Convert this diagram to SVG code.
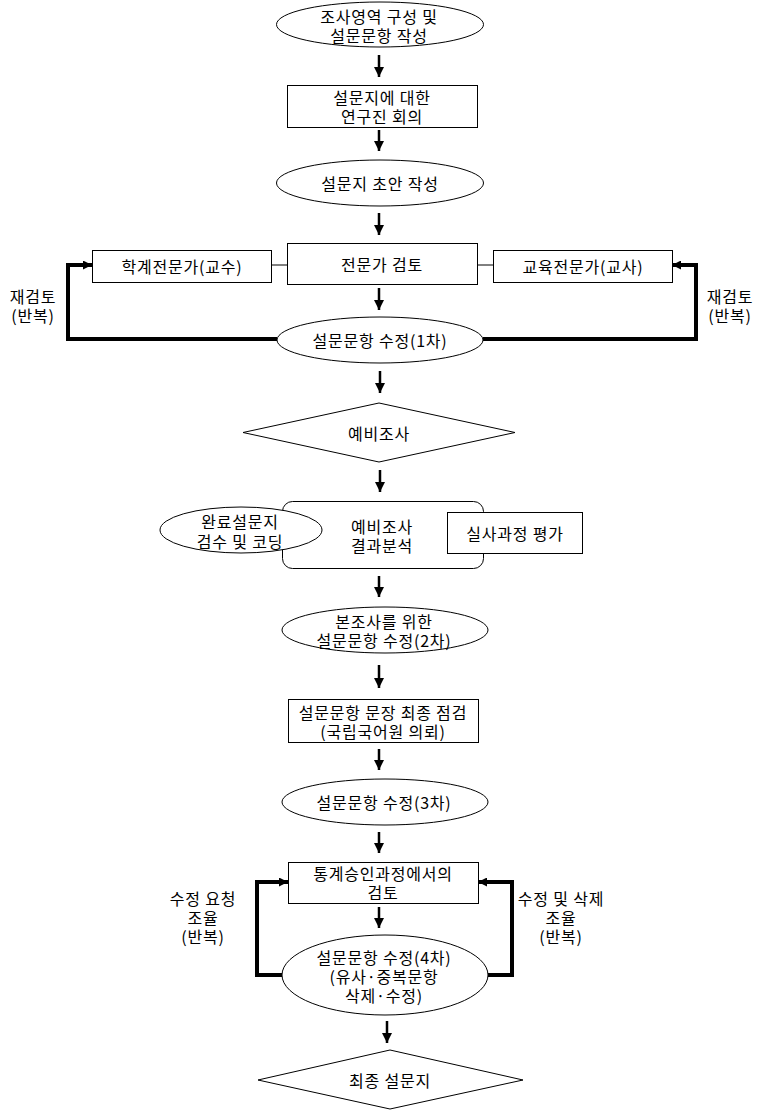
<svg xmlns="http://www.w3.org/2000/svg" width="766" height="1111" viewBox="0 0 766 1111">
<defs>
<style>
.s{fill:#fff;stroke:#000;stroke-width:1}
.t{font-family:"Noto Sans CJK KR","Liberation Sans",sans-serif;font-size:16px;letter-spacing:0.8px;fill:#000;text-anchor:middle;dominant-baseline:central}
.a{stroke:#000;stroke-width:2.5;fill:none}
.l{stroke:#000;stroke-width:4;fill:none}
.c{stroke:#000;stroke-width:1;fill:none}
</style>
<marker id="ah" markerUnits="userSpaceOnUse" viewBox="0 0 10 10" refX="10" refY="5" markerWidth="10" markerHeight="10" orient="auto">
<path d="M0,0 L10,5 L0,10 Z" fill="#000"/>
</marker>
<marker id="lh" markerUnits="userSpaceOnUse" viewBox="0 0 10 10" refX="10" refY="5" markerWidth="9" markerHeight="9" orient="auto">
<path d="M0,0 L10,5 L0,10 Z" fill="#000"/>
</marker>
</defs>
<rect width="766" height="1111" fill="#fff"/>

<g id="connectors">
<path class="a" d="M379,55 V77" marker-end="url(#ah)"/>
<path class="a" d="M379,130 V151" marker-end="url(#ah)"/>
<path class="a" d="M379,213 V235" marker-end="url(#ah)"/>
<path class="c" d="M272,265 H287 M477,265 H493"/>
<path class="a" d="M379,288 V310" marker-end="url(#ah)"/>
<path class="l" d="M277,339 H68 V265 H92" marker-end="url(#lh)"/>
<path class="l" d="M483,339 H696 V265 H672" marker-end="url(#lh)"/>
<path class="a" d="M380,371 V393" marker-end="url(#ah)"/>
<path class="a" d="M380,470 V492" marker-end="url(#ah)"/>
<path class="a" d="M379,576 V597" marker-end="url(#ah)"/>
<path class="a" d="M379,665 V688" marker-end="url(#ah)"/>
<path class="a" d="M379,749 V770" marker-end="url(#ah)"/>
<path class="a" d="M379,832 V853" marker-end="url(#ah)"/>
<path class="a" d="M379,907 V928" marker-end="url(#ah)"/>
<path class="l" d="M282,975 H257 V882 H288" marker-end="url(#lh)"/>
<path class="l" d="M488,975 H512 V882 H478" marker-end="url(#lh)"/>
<path class="a" d="M387,1021 V1043" marker-end="url(#ah)"/>
</g>

<g id="n1">
<ellipse class="s" cx="380" cy="24.5" rx="103.5" ry="22.5"/>
<text class="t" x="379" y="16">조사영역 구성 및</text>
<text class="t" x="379" y="35">설문문항 작성</text>
</g>
<g id="n2">
<rect class="s" x="287.5" y="85.5" width="190" height="42"/>
<text class="t" x="382" y="97">설문지에 대한</text>
<text class="t" x="382" y="116">연구진 회의</text>
</g>
<g id="n3">
<ellipse class="s" cx="380" cy="183" rx="103.5" ry="23"/>
<text class="t" x="380" y="183">설문지 초안 작성</text>
</g>
<g id="n4">
<rect class="s" x="287.5" y="243.5" width="190" height="41"/>
<text class="t" x="382" y="264">전문가 검토</text>
</g>
<g id="n5">
<rect class="s" x="92.5" y="250.5" width="179" height="32"/>
<text class="t" x="182" y="266">학계전문가(교수)</text>
</g>
<g id="n6">
<rect class="s" x="493.5" y="250.5" width="179" height="32"/>
<text class="t" x="583" y="266">교육전문가(교사)</text>
</g>
<g id="lab1">
<text class="t" x="33" y="296">재검토</text>
<text class="t" x="33" y="315">(반복)</text>
</g>
<g id="lab2">
<text class="t" x="730" y="296">재검토</text>
<text class="t" x="730" y="315">(반복)</text>
</g>
<g id="n7">
<ellipse class="s" cx="380" cy="340" rx="103" ry="23"/>
<text class="t" x="380" y="340">설문문항 수정(1차)</text>
</g>
<g id="n8">
<polygon class="s" points="379,403 515,432.5 379,462 243,432.5"/>
<text class="t" x="379" y="433">예비조사</text>
</g>
<g id="n9">
<rect class="s" x="282.5" y="501.5" width="201" height="67" rx="10" ry="10"/>
<text class="t" x="382" y="526">예비조사</text>
<text class="t" x="382" y="545">결과분석</text>
</g>
<g id="n10">
<ellipse class="s" cx="241" cy="530" rx="81" ry="23"/>
<text class="t" x="240" y="521">완료설문지</text>
<text class="t" x="240" y="541">검수 및 코딩</text>
</g>
<g id="n11">
<rect class="s" x="447.5" y="512.5" width="135" height="41"/>
<text class="t" x="515" y="533">실사과정 평가</text>
</g>
<g id="n12">
<ellipse class="s" cx="385" cy="630" rx="103" ry="23"/>
<text class="t" x="384" y="621">본조사를 위한</text>
<text class="t" x="384" y="640">설문문항 수정(2차)</text>
</g>
<g id="n13">
<rect class="s" x="288.5" y="699.5" width="190" height="43"/>
<text class="t" x="383" y="712">설문문항 문장 최종 점검</text>
<text class="t" x="383" y="731">(국립국어원 의뢰)</text>
</g>
<g id="n14">
<ellipse class="s" cx="385" cy="802" rx="103" ry="23"/>
<text class="t" x="384" y="802">설문문항 수정(3차)</text>
</g>
<g id="n15">
<rect class="s" x="288.5" y="862.5" width="190" height="41"/>
<text class="t" x="383" y="873">통계승인과정에서의</text>
<text class="t" x="383" y="892">검토</text>
</g>
<g id="lab3">
<text class="t" x="203" y="898">수정 요청</text>
<text class="t" x="203" y="917">조율</text>
<text class="t" x="203" y="936">(반복)</text>
</g>
<g id="lab4">
<text class="t" x="561" y="898">수정 및 삭제</text>
<text class="t" x="561" y="917">조율</text>
<text class="t" x="561" y="936">(반복)</text>
</g>
<g id="n16">
<ellipse class="s" cx="385" cy="975" rx="103" ry="40"/>
<text class="t" x="384" y="957">설문문항 수정(4차)</text>
<text class="t" x="384" y="976">(유사·중복문항</text>
<text class="t" x="384" y="995">삭제·수정)</text>
</g>
<g id="n17">
<polygon class="s" points="390,1050 523,1080 390,1109 258,1080"/>
<text class="t" x="390" y="1080">최종 설문지</text>
</g>
</svg>
